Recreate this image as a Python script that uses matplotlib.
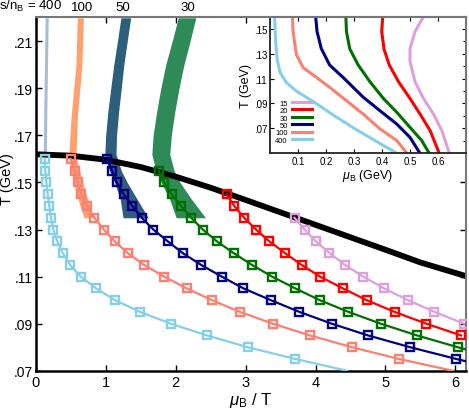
import matplotlib
matplotlib.use('Agg')
import matplotlib.pyplot as plt
from matplotlib.ticker import FuncFormatter, FixedLocator
import matplotlib.transforms as mtransforms

plt.rcParams['font.family'] = ['Liberation Sans', 'DejaVu Sans']
plt.rcParams['mathtext.fontset'] = 'custom'
plt.rcParams['mathtext.rm'] = 'Liberation Sans'
plt.rcParams['mathtext.it'] = 'Liberation Sans:italic'

# ---------------- data: main panel (mu_B/T vs T) ----------------
T_400 = [0.160, 0.155, 0.150, 0.145, 0.140, 0.135, 0.130, 0.125, 0.120, 0.115,
         0.110, 0.105, 0.100, 0.095, 0.090, 0.085, 0.080, 0.075, 0.070]
x_400 = [0.13, 0.14, 0.155, 0.175, 0.197, 0.221, 0.254, 0.311, 0.389, 0.493,
         0.646, 0.864, 1.136, 1.493, 1.931, 2.45, 3.03, 3.71, 4.45]

T_100 = [0.160, 0.155, 0.150, 0.145, 0.140, 0.135, 0.130, 0.125, 0.120, 0.115,
         0.110, 0.105, 0.100, 0.095, 0.090, 0.085, 0.080, 0.075, 0.070]
x_100 = [0.50, 0.56, 0.60, 0.655, 0.74, 0.84, 0.974, 1.131, 1.317, 1.55,
         1.836, 2.16, 2.52, 2.92, 3.39, 3.92, 4.52, 5.19, 5.96]

T_50 = [0.160, 0.155, 0.150, 0.145, 0.140, 0.135, 0.130, 0.125, 0.120, 0.115,
        0.110, 0.105, 0.100, 0.095, 0.090, 0.085, 0.080, 0.075, 0.070]
x_50 = [1.026, 1.093, 1.16, 1.26, 1.383, 1.517, 1.683, 1.889, 2.103, 2.364,
        2.66, 2.97, 3.36, 3.77, 4.23, 4.75, 5.35, 6.01, 6.70]

T_30 = [0.155, 0.150, 0.145, 0.140, 0.135, 0.130, 0.125, 0.120, 0.115, 0.110,
        0.105, 0.100, 0.095, 0.090, 0.085, 0.080, 0.075]
x_30 = [1.76, 1.84, 1.946, 2.08, 2.225, 2.39, 2.59, 2.83, 3.09, 3.38,
        3.71, 4.06, 4.47, 4.93, 5.45, 6.03, 6.65]

T_20 = [0.145, 0.140, 0.135, 0.130, 0.125, 0.120, 0.115, 0.110, 0.105, 0.100,
        0.095, 0.090, 0.085]
x_20 = [2.73, 2.84, 2.98, 3.15, 3.34, 3.564, 3.80, 4.064, 4.39, 4.73,
        5.13, 5.58, 6.08]

T_15 = [0.135, 0.130, 0.125, 0.120, 0.115, 0.110, 0.105, 0.100, 0.095, 0.090]
x_15 = [3.70, 3.845, 4.005, 4.20, 4.42, 4.68, 4.98, 5.32, 5.70, 6.12]

# crossover line
x_tc = [0.0, 0.5, 1.0, 1.5, 2.0, 2.5, 3.0, 3.5, 4.0, 4.5, 5.0, 5.5, 6.15]
T_tc = [0.1620, 0.1614, 0.1597, 0.1566, 0.1525, 0.1478, 0.1426, 0.1373,
        0.1320, 0.1267, 0.1214, 0.1160, 0.1102]

# bands (center and half-width in mu_B/T)
band_T_400 = [0.220, 0.200, 0.180, 0.162]
band_c_400 = [0.160, 0.150, 0.140, 0.133]
band_w_400 = [0.022, 0.022, 0.022, 0.022]

band_T_100 = [0.220, 0.200, 0.1785, 0.164, 0.160, 0.150, 0.140, 0.135]
band_c_100 = [0.64, 0.62, 0.555, 0.53, 0.536, 0.607, 0.707, 0.76]
band_w_100 = [0.043, 0.043, 0.045, 0.050, 0.053, 0.065, 0.070, 0.068]

band_T_50 = [0.220, 0.210, 0.200, 0.190, 0.180, 0.170, 0.162, 0.155, 0.150, 0.143, 0.135]
band_c_50 = [1.29, 1.24, 1.19, 1.15, 1.11, 1.08, 1.07, 1.14, 1.22, 1.33, 1.43]
band_w_50 = [0.070, 0.070, 0.072, 0.075, 0.077, 0.078, 0.080, 0.085, 0.090, 0.120, 0.180]

band_T_30 = [0.220, 0.210, 0.200, 0.190, 0.180, 0.170, 0.162, 0.155, 0.150, 0.143, 0.135]
band_c_30 = [2.165, 2.08, 1.99, 1.92, 1.86, 1.81, 1.79, 1.85, 1.93, 2.07, 2.22]
band_w_30 = [0.125, 0.128, 0.130, 0.130, 0.130, 0.130, 0.128, 0.130, 0.135, 0.155, 0.210]

top_labels = ['100', '50', '30']
top_label_x = [0.66, 1.25, 2.18]

# ---------------- data: inset (mu_B vs T) ----------------
in_T_400 = [0.160, 0.140, 0.125, 0.115, 0.107, 0.100, 0.090, 0.080, 0.070, 0.060, 0.050]
in_mu_400 = [0.0165, 0.020, 0.026, 0.036, 0.058, 0.094, 0.165, 0.230, 0.300, 0.375, 0.452]
in_T_100 = [0.160, 0.148, 0.1295, 0.119, 0.111, 0.103, 0.0922, 0.0814, 0.0694, 0.060, 0.050]
in_mu_100 = [0.080, 0.0824, 0.094, 0.118, 0.166, 0.213, 0.273, 0.333, 0.393, 0.453, 0.488]
in_T_50 = [0.160, 0.148, 0.1344, 0.121, 0.111, 0.095, 0.0841, 0.0733, 0.0626, 0.050]
in_mu_50 = [0.163, 0.168, 0.183, 0.213, 0.261, 0.333, 0.393, 0.453, 0.500, 0.535]
in_T_30 = [0.160, 0.148, 0.134, 0.121, 0.1075, 0.094, 0.0828, 0.0707, 0.060, 0.050]
in_mu_30 = [0.271, 0.273, 0.285, 0.315, 0.357, 0.405, 0.453, 0.500, 0.542, 0.568]
in_T_20 = [0.160, 0.148, 0.134, 0.121, 0.1075, 0.094, 0.0814, 0.068, 0.050]
in_mu_20 = [0.4025, 0.399, 0.407, 0.426, 0.459, 0.500, 0.536, 0.572, 0.604]
in_T_15 = [0.160, 0.148, 0.1344, 0.1237, 0.1075, 0.094, 0.0814, 0.068, 0.050]
in_mu_15 = [0.548, 0.518, 0.500, 0.500, 0.518, 0.548, 0.584, 0.614, 0.640]

sn_values = ['15', '20', '30', '50', '100', '400']
colors = {'15': '#dda0dd', '20': '#ff0000', '30': '#007000',
          '50': '#000080', '100': '#fa8072', '400': '#87ceeb'}
band_colors = {'400': '#a8bcd8', '100': '#ffa06e', '50': '#2d5f7d', '30': '#2e8b57'}

# ---------------- figure ----------------
fig = plt.figure(figsize=(4.69, 4.10), dpi=100)
ax = fig.add_axes([0.0757, 0.0934, 0.9179, 0.8619])

bands = {'400': (band_T_400, band_c_400, band_w_400),
         '100': (band_T_100, band_c_100, band_w_100),
         '50': (band_T_50, band_c_50, band_w_50),
         '30': (band_T_30, band_c_30, band_w_30)}
for key, (bT, bc, bw) in bands.items():
    left = [c - w for c, w in zip(bc, bw)]
    right = [c + w for c, w in zip(bc, bw)]
    ax.fill_betweenx(bT, left, right, color=band_colors[key], lw=0, zorder=1)

ax.plot(x_tc, T_tc, color='black', lw=4.2, zorder=2, solid_capstyle='butt')

series = {'400': (x_400, T_400, slice(0, -1)),
          '100': (x_100, T_100, slice(0, -1)),
          '50': (x_50, T_50, slice(0, -1)),
          '30': (x_30, T_30, slice(0, -1)),
          '20': (x_20, T_20, None),
          '15': (x_15, T_15, None)}
for key, (xs, Ts, me) in series.items():
    ax.plot(xs, Ts, color=colors[key], lw=1.6, marker='s', ms=6,
            mfc='none', mec=colors[key], mew=1.7, markevery=me, zorder=3)

ax.set_xlim(0, 6.15)
ax.set_ylim(0.07, 0.2202)
ax.set_xticks([0, 1, 2, 3, 4, 5, 6])
ax.set_yticks([0.07, 0.09, 0.11, 0.13, 0.15, 0.17, 0.19, 0.21])
ax.yaxis.set_major_formatter(FuncFormatter(lambda v, p: ('%.2f' % v).lstrip('0')))
ax.tick_params(direction='in', length=4, width=1, labelsize=10, pad=2,
               top=True, right=True)
ax.tick_params(axis='x', pad=3, labelsize=10.5)
for s in ['left', 'bottom']:
    ax.spines[s].set_linewidth(1.8)
    ax.spines[s].set_color('black')
for s in ['top', 'right']:
    ax.spines[s].set_linewidth(1.5)
    ax.spines[s].set_color('#777777')

ax.set_xlabel(r'$\mu_{\rm B}$ / T', fontsize=12, labelpad=1)
ax.set_ylabel('T (GeV)', fontsize=10.5)
ax.yaxis.set_label_coords(-0.05, 0.545)

trans = mtransforms.blended_transform_factory(ax.transData, ax.transAxes)
ax.text(0.375, 1.012, r's/n$_{\rm B}$ = 400', transform=trans, ha='right',
        va='bottom', fontsize=9.5)
for lab, xp in zip(top_labels, top_label_x):
    ax.text(xp, 1.012, lab, transform=trans, ha='center', va='bottom', fontsize=9.5)

# ---------------- inset ----------------
axi = fig.add_axes([0.5757, 0.6244, 0.4179, 0.3324])
axi.set_facecolor('white')
inset = {'15': (in_mu_15, in_T_15), '20': (in_mu_20, in_T_20),
         '30': (in_mu_30, in_T_30), '50': (in_mu_50, in_T_50),
         '100': (in_mu_100, in_T_100), '400': (in_mu_400, in_T_400)}
for key in sn_values:
    mu, Tv = inset[key]
    axi.plot(mu, Tv, color=colors[key], lw=2.2, label=key)
axi.set_xlim(0, 0.7)
axi.set_ylim(0.05, 0.16)
axi.set_xticks([0.1, 0.2, 0.3, 0.4, 0.5, 0.6])
axi.set_yticks([0.07, 0.09, 0.11, 0.13, 0.15])
axi.yaxis.set_minor_locator(FixedLocator([0.06, 0.08, 0.10, 0.12, 0.14]))
axi.yaxis.set_major_formatter(FuncFormatter(lambda v, p: ('%.2f' % v).lstrip('0')))
axi.tick_params(direction='in', length=3, width=0.8, labelsize=7, pad=2,
                top=True, right=True)
axi.tick_params(which='minor', direction='in', length=2, width=0.8, right=True, left=False)
for s in ['left', 'bottom']:
    axi.spines[s].set_linewidth(1.3)
    axi.spines[s].set_color('#222222')
for s in ['top', 'right']:
    axi.spines[s].set_linewidth(1.5)
    axi.spines[s].set_color('#777777')
axi.set_xlabel(r'$\mu_{\rm B}$ (GeV)', fontsize=9, labelpad=1)
axi.set_ylabel('T (GeV)', fontsize=9, labelpad=1)
leg = axi.legend(loc='lower left', bbox_to_anchor=(0.0, 0.03), frameon=False,
                 fontsize=5.5, markerfirst=False, handlelength=2.7,
                 handletextpad=0.5, labelspacing=0.0, borderpad=0.2)
for t in leg.get_texts():
    t.set_ha('right')

fig.savefig('out.png', dpi=100)
